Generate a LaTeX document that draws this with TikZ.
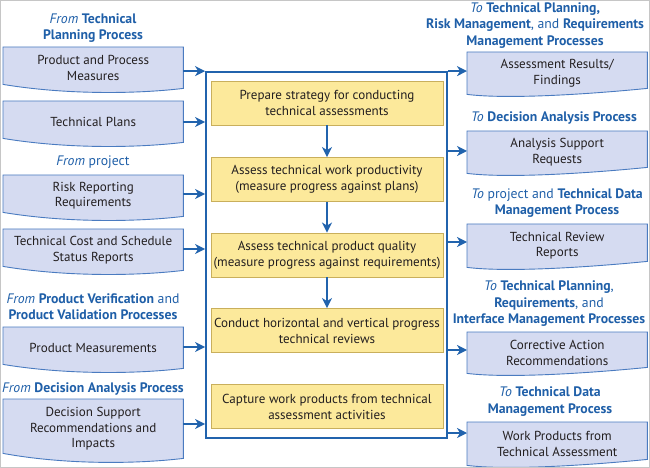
\documentclass[tikz,border=0pt]{standalone}
\usepackage{fontspec}
\setmainfont{PT Sans}
\usetikzlibrary{arrows.meta,calc}
\pgfdeclarelayer{background}
\pgfsetlayers{background,main}
\definecolor{hblue}{HTML}{1F5FA8}
\definecolor{docfill}{HTML}{D5DBF1}
\definecolor{docline}{HTML}{4A7BC0}
\definecolor{yfill}{HTML}{FCE99B}
\definecolor{yline}{HTML}{C9AF5C}
\definecolor{ablue}{HTML}{2163AD}
\definecolor{txt}{HTML}{231F20}
\newcommand\ldocshape[2]{\draw[docshape] ([yshift=#2bp]#1.south west) -- (#1.north west) -- (#1.north east) -- (#1.south east) .. controls ($(#1.south west)+(130,6)$) and ($(#1.south west)+(60,6)$) .. ([yshift=#2bp]#1.south west) -- cycle;}
\newcommand\rdocshape[2]{\draw[docshape] (#1.south west) -- (#1.north west) -- (#1.north east) -- ([yshift=#2bp]#1.south east) .. controls ($(#1.south west)+(120,0)$) and ($(#1.south west)+(40,5)$) .. (#1.south west) -- cycle;}
\begin{document}
\begin{tikzpicture}[x=1bp,y=-1bp,
  every node/.style={font=\fontsize{13.1}{16}\selectfont, text=txt, inner sep=0pt},
  doctext/.style={minimum width=180bp, align=center},
  docshape/.style={draw=docline, fill=docfill, line width=0.9bp},
  stepbox/.style={draw=yline, fill=yfill, line width=0.9bp, minimum width=232bp, minimum height=44bp, align=center},
  contbox/.style={draw=ablue, line width=1.8bp, minimum width=241bp, minimum height=366bp},
  heading/.style={text=hblue, align=center, font=\fontsize{13.8}{16.5}\selectfont},
  arr/.style={draw=ablue, line width=1.6bp, -{Stealth[length=10bp,width=10bp,inset=3bp]}},
]
\useasboundingbox (0,0) rectangle (650,468);
\draw[gray!45, line width=1bp] (0.5,0.5) rectangle (649.5,467.5);

% container and steps
\node[contbox] (cont) at (326.5,255) {};
\node[stepbox] (sa) at (327,103) {Prepare strategy for conducting\\technical assessments};
\node[stepbox] (sb) at (327,179.5) {Assess technical work productivity\\(measure progress against plans)};
\node[stepbox] (sc) at (327,255) {Assess technical product quality\\(measure progress against requirements)};
\node[stepbox] (sd) at (327,330.5) {Conduct horizontal and vertical progress\\technical reviews};
\node[stepbox] (se) at (327,406.5) {Capture work products from technical\\assessment activities};
\draw[arr] (sa) -- (sb);
\draw[arr] (sb) -- (sc);
\draw[arr] (sc) -- (sd);

% left documents
\node[doctext, minimum height=41bp, anchor=north west] (l1) at (3,47) {Product and Process\\Measures};
\node[doctext, minimum height=41bp, anchor=north west] (l2) at (3,101) {Technical Plans};
\node[doctext, minimum height=41bp, anchor=north west] (l3) at (3,175) {Risk Reporting\\Requirements};
\node[doctext, minimum height=41bp, anchor=north west] (l4) at (3,229) {Technical Cost and Schedule\\Status Reports};
\node[doctext, minimum height=41bp, anchor=north west] (l5) at (3,327) {Product Measurements};
\node[doctext, minimum height=59bp, anchor=north west] (l6) at (3,399) {Decision Support\\Recommendations and\\Impacts};

% right documents
\node[doctext, minimum height=42bp, anchor=north west] (r1) at (467,52) {Assessment Results/\\Findings};
\node[doctext, minimum height=42bp, anchor=north west] (r2) at (467,131) {Analysis Support\\Requests};
\node[doctext, minimum height=43bp, anchor=north west] (r3) at (467,224) {Technical Review\\Reports};
\node[doctext, minimum height=41bp, anchor=north west] (r4) at (467,332) {Corrective Action\\Recommendations};
\node[doctext, minimum height=43bp, anchor=north west] (r5) at (467,422) {Work Products from\\Technical Assessment};

\begin{pgfonlayer}{background}
\foreach \n/\r in {l1/4,l2/4,l3/4,l4/4,l5/4,l6/5}{\ldocshape{\n}{\r}}
\foreach \n in {r1,r2,r3,r4,r5}{\rdocshape{\n}{6}}
\end{pgfonlayer}

% headings
\node[heading] (hl1) at (93,28) {\textit{From} \textbf{Technical}\\\textbf{Planning Process}};
\node[heading] (hl2) at (93,162) {\textit{From} project};
\node[heading] (hl3) at (93,306.5) {\textit{From} \textbf{Product Verification} and\\\textbf{Product Validation Processes}};
\node[heading] (hl4) at (93,389) {\textit{From} \textbf{Decision Analysis Process}};
\node[heading] (hr1) at (535,25.5) {\textit{To} \textbf{Technical Planning,}\\\textbf{Risk Management}, and \textbf{Requirements}\\\textbf{Management Processes}};
\node[heading] (hr2) at (554,118) {\textit{To} \textbf{Decision Analysis Process}};
\node[heading] (hr3) at (557,203) {\textit{To} project and \textbf{Technical Data}\\\textbf{Management Process}};
\node[heading] (hr4) at (549,304) {\textit{To} \textbf{Technical Planning},\\\textbf{Requirements}, and\\\textbf{Interface Management Processes}};
\node[heading] (hr5) at (550,401.5) {\textit{To} \textbf{Technical Data}\\\textbf{Management Process}};

% input arrows
\draw[arr] (l1.east |- cont.north) -- (cont.north west);
\draw[arr] (l2.east |- 0,122) -- (cont.west |- 0,122);
\draw[arr] (l3.east |- 0,194) -- (cont.west |- 0,194);
\draw[arr] (l4.east |- 0,249) -- (cont.west |- 0,249);
\draw[arr] (l5.east |- 0,347) -- (cont.west |- 0,347);
\draw[arr] (l6.east |- 0,424) -- (cont.west |- 0,424);
% output arrows
\draw[arr] (cont.north east) -- (r1.west |- cont.north);
\draw[arr] (cont.east |- 0,151) -- (r2.west |- 0,151);
\draw[arr] (cont.east |- 0,242) -- (r3.west |- 0,242);
\draw[arr] (cont.east |- 0,350) -- (r4.west |- 0,350);
\draw[arr] (cont.east |- 0,433) -- (r5.west |- 0,433);
\end{tikzpicture}
\end{document}
